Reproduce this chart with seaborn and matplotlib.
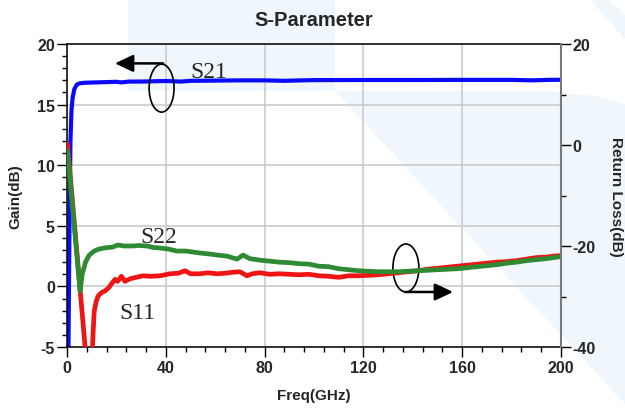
import matplotlib
matplotlib.use("Agg")
import matplotlib.pyplot as plt
from matplotlib.patches import Ellipse, Polygon, FancyArrowPatch
from matplotlib.ticker import MultipleLocator, FixedLocator
import pandas as pd
import seaborn as sns

# ---------------- data ----------------
freq_s21 = [0.6, 1.0, 1.4, 1.8, 2.3, 3.0, 4.0, 5.0, 7.0, 10, 15, 20, 22, 25, 30, 40,
            46, 50, 60, 70, 80, 88, 95, 100, 120, 140, 160, 180, 188, 195, 200]
gain_s21 = [-5.0, 5.0, 12.0, 14.5, 15.6, 16.3, 16.65, 16.75, 16.8, 16.82, 16.85, 16.88,
            16.83, 16.9, 16.9, 16.95, 16.9, 16.96, 16.98, 17.0, 17.0, 16.96, 17.0, 17.02,
            17.03, 17.03, 17.04, 17.04, 17.0, 17.04, 17.05]

freq_s11 = [0.2, 1, 2, 3, 4, 5, 6, 7, 7.3, 8.5, 9.5, 10.3, 11.0, 11.8, 12.6, 14, 15.4,
            17, 18, 19.5, 20.5, 22, 23.5, 25.5, 28, 30.8, 34, 37.7, 41.7, 45, 47.8, 50,
            53.8, 57, 60.7, 64, 67, 70, 72.9, 75, 78.1, 82, 86, 90, 94, 98, 102, 106,
            110, 114, 118, 122, 126, 130, 134, 138, 142, 146, 150, 154, 158, 162, 166,
            170, 174, 178, 182, 186, 190, 194, 197, 200]
rl_s11 = [0.2, -4.3, -9.9, -15.6, -21.2, -26.9, -32.5, -38.1, -40.0, -48.0, -48.0, -40.0,
          -33.0, -31.0, -29.9, -29.2, -28.9, -28.2, -27.5, -26.6, -27.0, -26.0, -27.0,
          -26.5, -26.2, -25.9, -26.0, -25.9, -25.5, -25.4, -24.9, -25.5, -25.5, -25.3,
          -25.5, -25.4, -25.2, -25.1, -25.9, -25.5, -25.3, -25.6, -25.5, -25.6, -25.7,
          -25.6, -25.9, -26.0, -26.2, -25.9, -25.9, -25.8, -25.7, -25.5, -25.3, -25.1,
          -24.9, -24.6, -24.4, -24.2, -24.0, -23.8, -23.6, -23.4, -23.2, -23.1, -22.9,
          -22.6, -22.3, -22.2, -22.0, -21.9]

freq_s22 = [0.2, 1, 2, 3, 4, 5.3, 6.2, 7.5, 9, 11, 13, 15, 18.6, 20.6, 23, 26.7, 29,
            32.4, 35, 37.7, 41, 44.5, 48, 51, 54, 57.9, 61, 64.8, 68.8, 71.3, 74, 78.1,
            82, 86, 90, 94, 98, 102, 106, 110, 114, 118, 122, 126, 130, 134, 138, 142,
            146, 150, 154, 158, 162, 166, 170, 174, 178, 182, 186, 190, 194, 197, 200]
rl_s22 = [-1.2, -5.5, -11.0, -16.4, -21.8, -28.9, -25.5, -23.2, -21.8, -21.0, -20.6,
          -20.4, -20.2, -19.8, -20.0, -20.0, -19.9, -20.0, -20.3, -20.4, -20.6, -21.0,
          -21.0, -21.2, -21.4, -21.6, -21.8, -22.0, -22.6, -21.8, -22.5, -22.8, -23.0,
          -23.2, -23.3, -23.5, -23.6, -24.0, -24.1, -24.5, -24.7, -24.9, -25.0, -25.1,
          -25.1, -25.1, -25.0, -24.9, -24.8, -24.7, -24.6, -24.5, -24.3, -24.1, -23.9,
          -23.7, -23.4, -23.2, -22.9, -22.7, -22.5, -22.3, -22.1]

x_ticks = [0, 40, 80, 120, 160, 200]
gain_ticks = [-5, 0, 5, 10, 15, 20]
rl_ticks = [-40, -20, 0, 20]

# ---------------- style ----------------
sns.set_style("ticks")
plt.rcParams["font.family"] = ["Liberation Sans", "DejaVu Sans"]
plt.rcParams["axes.unicode_minus"] = False

W, H = 625, 410
fig = plt.figure(figsize=(6.25, 4.1), dpi=100)
fig.patch.set_facecolor("white")

# light blue watermark shapes (figure pixel coordinates)
wm = "#eff6fc"
def px(points):
    return [(x / W, 1 - y / H) for x, y in points]
for pts in [
    [(128, 0), (335, 0), (335, 92), (128, 92)],
    [(335, 92), (545, 92), (595, 97), (625, 105), (625, 405)],
    [(590, 0), (608, 0), (625, 16), (625, 40)],
]:
    fig.add_artist(Polygon(px(pts), closed=True, transform=fig.transFigure,
                           facecolor=wm, edgecolor="none", zorder=-5))

ax = fig.add_axes([67 / W, 1 - 348 / H, 494 / W, 303 / H])
ax.set_facecolor("none")
ax2 = ax.twinx()
ax2.set_facecolor("none")

df21 = pd.DataFrame({"f": freq_s21, "v": gain_s21})
df11 = pd.DataFrame({"f": freq_s11, "v": rl_s11})
df22 = pd.DataFrame({"f": freq_s22, "v": rl_s22})

sns.lineplot(data=df21, x="f", y="v", ax=ax, color="#0a0aff", lw=3.0, sort=False)
sns.lineplot(data=df11, x="f", y="v", ax=ax2, color="#f01414", lw=3.4, sort=False)
sns.lineplot(data=df22, x="f", y="v", ax=ax2, color="#2e8b34", lw=3.4, sort=False)

ax.set_xlim(0, 200)
ax.set_ylim(-5, 20)
ax2.set_ylim(-40, 20)

ax.xaxis.set_major_locator(FixedLocator(x_ticks))
ax.xaxis.set_minor_locator(MultipleLocator(8))
ax.yaxis.set_major_locator(FixedLocator(gain_ticks))
ax.yaxis.set_minor_locator(MultipleLocator(1))
ax2.yaxis.set_major_locator(FixedLocator(rl_ticks))
ax2.yaxis.set_minor_locator(MultipleLocator(10))
ax.set_xticklabels([str(t) for t in x_ticks])
ax.set_yticklabels([str(t) for t in gain_ticks])
ax2.set_yticklabels([str(t) for t in rl_ticks])

ax.grid(True, which="major", color="#c8c8c8", lw=1.1)
ax2.grid(False)

for a in (ax, ax2):
    a.tick_params(which="major", length=7.2, width=1.0, color="black")
    a.tick_params(which="minor", length=3.8, width=1.0, color="black")
ax.tick_params(axis="both", which="both", direction="out", top=False, right=False)
ax.tick_params(axis="y", which="major", pad=1.5, labelsize=11.5)
ax.tick_params(axis="x", which="major", pad=2.5, labelsize=11.5)
ax2.tick_params(axis="y", which="both", direction="out", pad=1.0, labelsize=11.5)
for lab in ax.get_xticklabels() + ax.get_yticklabels() + ax2.get_yticklabels():
    lab.set_fontweight("bold")

for s in ("left", "bottom", "top"):
    ax.spines[s].set_color("black")
    ax.spines[s].set_linewidth(1.1)
ax.spines["right"].set_visible(False)
for s in ("left", "bottom", "top"):
    ax2.spines[s].set_visible(False)
ax2.spines["right"].set_color("#7a7a7a")
ax2.spines["right"].set_linewidth(1.5)

ax.set_xlabel("Freq(GHz)", fontsize=11, fontweight="bold")
ax.set_ylabel("Gain(dB)", fontsize=11, fontweight="bold")
ax2.set_ylabel("Return Loss(dB)", fontsize=11, fontweight="bold",
               rotation=270, va="bottom")
ax.xaxis.set_label_coords(0.5, (348 - 389) / 303)
ax.yaxis.set_label_coords((22 - 67) / 494, 0.5)
ax2.yaxis.set_label_coords((609 - 67) / 494, 0.5)
ax.set_title("S-Parameter", fontsize=14.5, fontweight="bold", pad=13.5)

# annotations (serif labels, ellipses and arrows)
serif = ["Liberation Serif", "DejaVu Serif"]
ax.text(49.8, 17.25, "S21", family=serif, fontsize=17, va="baseline", ha="left")
ax.text(29.6, 3.66, "S22", family=serif, fontsize=17, va="baseline", ha="left")
ax.text(21.1, -2.6, "S11", family=serif, fontsize=17, va="baseline", ha="left")

ax.add_patch(Ellipse((38.3, 16.36), 10.1, 3.96, fill=False, ec="black", lw=1.2, zorder=5))
ax.add_patch(Ellipse((137.2, 1.52), 10.5, 3.96, fill=False, ec="black", lw=1.2, zorder=5))
ax.add_patch(FancyArrowPatch((38.9, 18.4), (19.4, 18.4),
                             arrowstyle="-|>,head_length=0.55,head_width=0.26",
                             mutation_scale=20, lw=1.8, color="black",
                             shrinkA=0, shrinkB=0, zorder=5))
ax.add_patch(FancyArrowPatch((136.8, -0.46), (156.3, -0.46),
                             arrowstyle="-|>,head_length=0.55,head_width=0.26",
                             mutation_scale=20, lw=1.8, color="black",
                             shrinkA=0, shrinkB=0, zorder=5))

fig.savefig("out.png", dpi=100, facecolor="white")
